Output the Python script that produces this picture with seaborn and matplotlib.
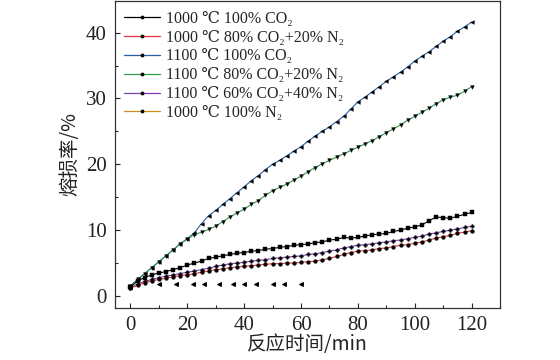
import numpy as np
import pandas as pd
import seaborn as sns
import matplotlib
matplotlib.use("Agg")
import matplotlib.pyplot as plt
from matplotlib.lines import Line2D
from matplotlib.ticker import MultipleLocator

# reaction time, min (every 2.5 min)
t = [i * 2.5 for i in range(49)]

co2_1000 = [1.3, 2.3, 2.8, 3.2, 3.5, 3.7, 4.0, 4.3, 4.7, 5.0, 5.3, 5.7, 5.9, 6.1, 6.3, 6.5, 6.6,
            6.8, 6.9, 7.1, 7.2, 7.4, 7.5, 7.7, 7.8, 7.9, 8.1, 8.2, 8.5, 8.6, 8.9, 8.8, 8.9, 9.1,
            9.3, 9.4, 9.5, 9.8, 10.0, 10.3, 10.5, 10.8, 11.4, 12.0, 11.9, 11.8, 12.1, 12.4, 12.7]
co2_80_1000 = [1.2, 1.6, 2.0, 2.3, 2.5, 2.7, 2.9, 3.1, 3.2, 3.4, 3.6, 3.8, 4.0, 4.1, 4.3, 4.4, 4.5,
               4.6, 4.7, 4.8, 4.9, 4.9, 5.0, 5.0, 5.1, 5.2, 5.3, 5.5, 5.7, 6.0, 6.3, 6.6, 6.8, 6.9,
               7.0, 7.2, 7.3, 7.5, 7.7, 7.8, 8.0, 8.2, 8.5, 8.8, 9.0, 9.2, 9.5, 9.7, 9.9]
co2_1100 = [1.5, 2.5, 3.4, 4.3, 5.2, 6.1, 7.0, 7.9, 8.7, 9.6, 11.0, 12.2, 13.0, 13.9, 14.8, 15.7,
            16.6, 17.5, 18.3, 19.2, 20.0, 20.6, 21.3, 22.0, 22.7, 23.5, 24.3, 25.0, 25.7, 26.5,
            27.3, 28.4, 29.5, 30.2, 31.0, 31.8, 32.6, 33.3, 34.0, 34.8, 35.7, 36.4, 37.1, 37.9,
            38.7, 39.4, 40.2, 40.9, 41.6]
co2_80_1100 = [1.5, 2.5, 3.4, 4.3, 5.2, 6.1, 7.0, 7.9, 8.7, 9.3, 9.7, 10.1, 10.6, 11.3, 12.0, 12.6,
               13.2, 13.9, 14.5, 15.3, 16.0, 16.5, 17.0, 17.6, 18.2, 18.9, 19.5, 20.1, 20.6, 21.1,
               21.6, 22.1, 22.6, 23.1, 23.6, 24.2, 24.8, 25.4, 26.0, 26.7, 27.3, 27.9, 28.5, 29.2,
               29.8, 30.2, 30.5, 31.1, 31.8]
co2_60_1100 = [1.2, 1.8, 2.2, 2.5, 2.8, 3.0, 3.2, 3.4, 3.6, 3.8, 4.0, 4.2, 4.5, 4.7, 4.9, 5.0, 5.1,
               5.3, 5.4, 5.5, 5.7, 5.8, 5.9, 6.0, 6.1, 6.3, 6.4, 6.6, 6.8, 7.0, 7.3, 7.5, 7.7, 7.8,
               7.9, 8.1, 8.2, 8.4, 8.5, 8.7, 8.9, 9.1, 9.4, 9.6, 9.8, 10.0, 10.2, 10.4, 10.6]
n2_t = [0, 10, 16, 22, 26, 31, 36, 40, 44, 50, 54, 60]
n2_1000 = [1.4, 1.8, 1.8, 1.8, 1.8, 1.8, 1.8, 1.8, 1.8, 1.8, 1.8, 1.8]

labels = ["1000 ℃ 100% CO₂", "1000 ℃ 80% CO₂+20% N₂", "1100 ℃ 100% CO₂",
          "1100 ℃ 80% CO₂+20% N₂", "1100 ℃ 60% CO₂+40% N₂", "1000 ℃ 100% N₂"]
colors = ["#000000", "#e0303c", "#2a5fa8", "#2f9a4a", "#7b3fb0", "#d08a1e"]
markers = ["s", "o", "<", "v", "P", "<"]

fam = ["Liberation Serif", "DejaVu Serif", "Noto Sans CJK SC"]

sns.set_style("ticks")
plt.rcParams["font.family"] = fam
plt.rcParams["xtick.direction"] = "in"
plt.rcParams["ytick.direction"] = "in"

fig = plt.figure(figsize=(5.6, 3.6), dpi=100)
ax = fig.add_axes([0.205, 0.145, 0.688, 0.852])

series = [co2_1000, co2_80_1000, co2_1100, co2_80_1100, co2_60_1100]
order = [2, 3, 0, 4, 1]
for i in order:
    sns.lineplot(x=t, y=series[i], ax=ax, color=colors[i], lw=0.8, marker=markers[i],
                 markersize=2.7, markerfacecolor="black", markeredgecolor="black",
                 markeredgewidth=0.3)
sns.lineplot(x=n2_t, y=n2_1000, ax=ax, color=colors[5], lw=0, marker="<", markersize=2.8,
             markerfacecolor="black", markeredgecolor="black")

ax.set_xlim(-5.5, 130)
ax.set_ylim(-1.8, 44.8)
ax.xaxis.set_major_locator(MultipleLocator(20))
ax.xaxis.set_minor_locator(MultipleLocator(10))
ax.yaxis.set_major_locator(MultipleLocator(10))
ax.yaxis.set_minor_locator(MultipleLocator(5))
ax.tick_params(which="major", length=3.5, width=0.8, labelsize=15, colors="#222222", pad=6)
ax.tick_params(which="minor", length=2, width=0.8)
for s in ax.spines.values():
    s.set_visible(True)
    s.set_linewidth(0.9)
    s.set_color("#333333")

ax.set_xlabel("反应时间/min", fontsize=14, family=["Noto Sans CJK SC", "Liberation Serif"],
              color="#222222", labelpad=-1)
ax.set_ylabel("熔损率/%", fontsize=14, family=["Noto Sans CJK SC", "Liberation Serif"],
              color="#222222", labelpad=4)

handles = [Line2D([0], [0], color=c, lw=0.9, marker=".", markersize=3.5,
                  markerfacecolor="black", markeredgecolor="black") for c in colors]
ax.legend(handles, labels, loc="upper left", frameon=False, fontsize=11.5,
          handlelength=2.2, handletextpad=0.4, labelspacing=0.18,
          borderaxespad=0.2, bbox_to_anchor=(0.0, 1.0))

fig.savefig("out.png", dpi=100)
